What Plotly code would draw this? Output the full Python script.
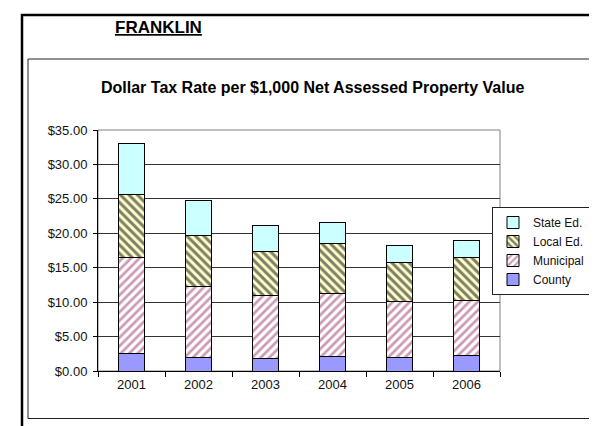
import plotly.graph_objects as go

years = ["2001", "2002", "2003", "2004", "2005", "2006"]
county = [2.6, 2.0, 1.8, 2.1, 2.0, 2.2]
municipal = [13.9, 10.3, 9.1, 9.1, 8.1, 8.0]
local_ed = [9.1, 7.4, 6.5, 7.3, 5.7, 6.3]
state_ed = [7.5, 5.0, 3.8, 3.0, 2.4, 2.5]

FONT = "Liberation Sans, Arial, sans-serif"
W, H = 597, 426
L, R, T, B = 90, 105, 122, 63
PW, PH = W - L - R, H - T - B


def px(x):
    return (x - L) / PW


def py(y):
    return (H - B - y) / PH


fig = go.Figure()
line = dict(color="black", width=1)
fig.add_bar(x=years, y=county, name="County",
            marker=dict(color="#9999FF", line=line))
fig.add_bar(x=years, y=municipal, name="Municipal",
            marker=dict(color="white", line=line,
                        pattern=dict(shape="/", fgcolor="#993366", bgcolor="white",
                                     size=6, solidity=0.45, fillmode="overlay")))
fig.add_bar(x=years, y=local_ed, name="Local Ed.",
            marker=dict(color="#FFFFCC", line=line,
                        pattern=dict(shape="\\", fgcolor="black", bgcolor="#FFFFCC",
                                     size=6, solidity=0.5, fillmode="overlay")))
fig.add_bar(x=years, y=state_ed, name="State Ed.",
            marker=dict(color="#CCFFFF", line=line))

shapes = [
    # outer frame
    dict(type="rect", xref="paper", yref="paper", x0=px(14), x1=px(640), y0=py(470), y1=py(7),
         line=dict(color="black", width=2.5), layer="below"),
    # chart box
    dict(type="rect", xref="paper", yref="paper", x0=px(20), x1=px(589.5), y0=py(410.5), y1=py(51),
         line=dict(color="#222222", width=1), layer="below"),
    # plot area border
    dict(type="rect", xref="paper", yref="paper", x0=0, x1=1, y0=0, y1=1,
         line=dict(color="#808080", width=1), layer="below"),
]

fig.update_layout(
    width=W, height=H,
    margin=dict(l=L, r=R, t=T, b=B, autoexpand=False),
    paper_bgcolor="white", plot_bgcolor="white",
    barmode="stack", bargap=0.6,
    font=dict(family=FONT, size=13, color="#111111"),
    showlegend=True,
    legend=dict(traceorder="reversed", x=px(484), y=py(199), xanchor="left", yanchor="top",
                bordercolor="#222222", borderwidth=1, bgcolor="white",
                font=dict(family=FONT, size=12, color="#111111"),
                tracegroupgap=0, itemwidth=30),
    shapes=shapes,
    annotations=[
        dict(text="<b><u>FRANKLIN</u></b>", xref="paper", yref="paper", x=px(150), y=py(20),
             showarrow=False, font=dict(family=FONT, size=17, color="black"),
             xanchor="center", yanchor="middle"),
        dict(text="<b>Dollar Tax Rate per $1,000 Net Assessed Property Value</b>", xref="paper",
             yref="paper", x=px(304.5), y=py(79), showarrow=False,
             font=dict(family=FONT, size=16, color="black"), xanchor="center", yanchor="middle"),
    ],
)
fig.update_xaxes(showline=True, linecolor="black", linewidth=1, ticks="outside", ticklen=5,
                 tickcolor="black", tickson="boundaries", showgrid=False,
                 ticklabelstandoff=1,
                 tickfont=dict(family=FONT, size=13, color="#111111"))
fig.update_yaxes(range=[0, 35], dtick=5, tickprefix="$", tickformat=".2f",
                 showline=True, linecolor="black", linewidth=1, ticks="outside", ticklen=4,
                 tickcolor="black", showgrid=True, gridcolor="#333333", gridwidth=1,
                 ticklabelstandoff=3,
                 zeroline=False, tickfont=dict(family=FONT, size=13, color="#111111"))

fig.write_html("out.html")
